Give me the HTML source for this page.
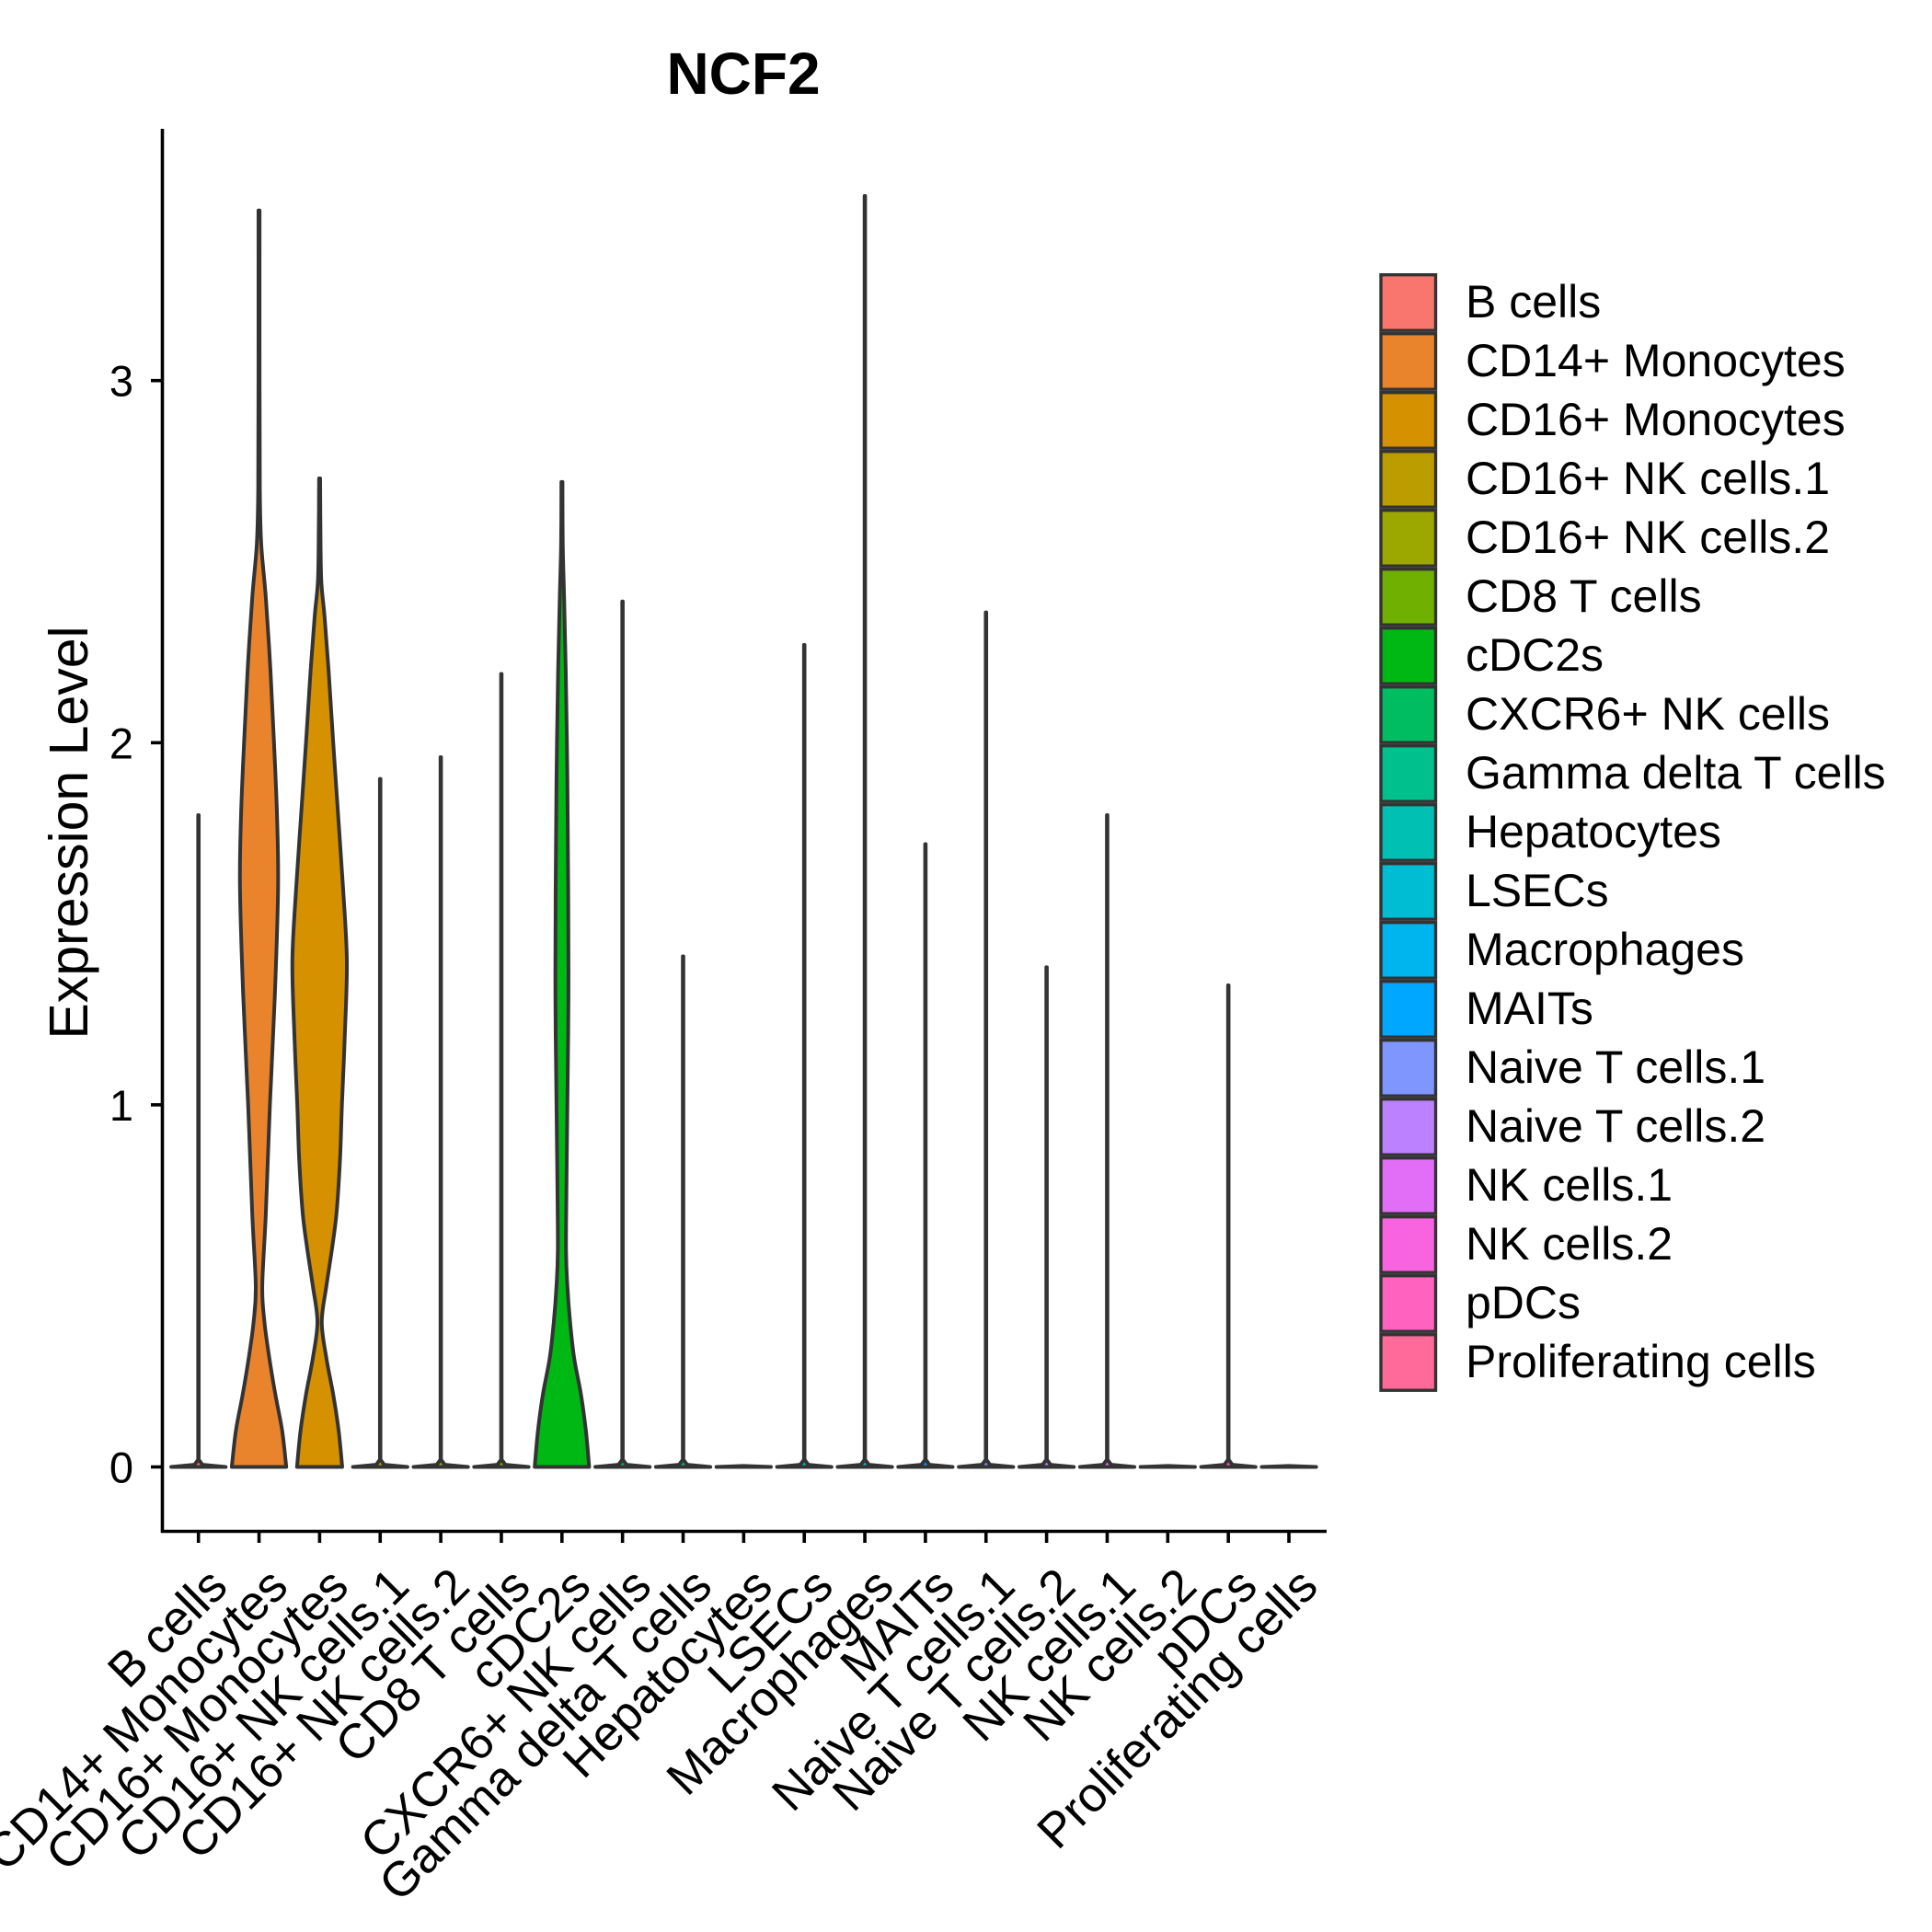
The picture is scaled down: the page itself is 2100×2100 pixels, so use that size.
<!DOCTYPE html>
<html><head><meta charset="utf-8"><style>
html,body{margin:0;padding:0;background:#fff;}
svg{display:block;font-family:"Liberation Sans",Arial,sans-serif;}
</style></head><body>
<svg id="chart" width="2100" height="2100" viewBox="0 0 2100 2100" xmlns="http://www.w3.org/2000/svg">
<rect x="0" y="0" width="2100" height="2100" fill="#fff"/>
<text x="808" y="102" text-anchor="middle" font-size="64" font-weight="bold">NCF2</text>
<text transform="translate(95,905) rotate(-90)" text-anchor="middle" font-size="59">Expression Level</text>
<g id="marks"></g>
<g id="axes"></g>
<g id="legend"></g>
</svg>
<script>
const categories = ["B cells","CD14+ Monocytes","CD16+ Monocytes","CD16+ NK cells.1","CD16+ NK cells.2","CD8 T cells","cDC2s","CXCR6+ NK cells","Gamma delta T cells","Hepatocytes","LSECs","Macrophages","MAITs","Naive T cells.1","Naive T cells.2","NK cells.1","NK cells.2","pDCs","Proliferating cells"];
const colors = ["#F8766D","#E9842C","#D69100","#BC9D00","#9CA700","#6FB000","#00B813","#00BD61","#00C08E","#00C0B4","#00BDD4","#00B5EE","#00A7FF","#7F96FF","#BC81FF","#E26EF7","#F863DF","#FF62BF","#FF6A9A"];
const maxValues = [1.80,3.47,2.73,1.90,1.96,2.19,2.72,2.39,1.41,0,2.27,3.51,1.72,2.36,1.38,1.80,0,1.33,0];
const yTicks = [0,1,2,3];
// density profiles (value, relative half-width)
const cd14Y = [0,0.1,0.2,0.3,0.4,0.5,0.7,1.0,1.3,1.6,1.8,2.0,2.2,2.4,2.55,2.7,3.0,3.47];
const cd14W = [1.0,0.85,0.6,0.38,0.2,0.12,0.25,0.4,0.58,0.7,0.66,0.55,0.42,0.25,0.08,0.03,0.02,0.02];
const cd16Y = [0,0.1,0.2,0.3,0.4,0.5,0.6,0.7,0.85,1.0,1.2,1.4,1.6,1.8,2.0,2.2,2.35,2.45,2.6,2.73];
const cd16W = [0.83,0.7,0.5,0.25,0.08,0.25,0.45,0.62,0.75,0.82,0.93,1.0,0.86,0.68,0.5,0.33,0.18,0.06,0.03,0.02];
const cdc2Y = [0,0.1,0.2,0.3,0.4,0.5,0.6,0.8,1.0,1.3,1.6,1.9,2.2,2.4,2.55,2.72];
const cdc2W = [1.0,0.88,0.7,0.45,0.3,0.2,0.15,0.17,0.2,0.24,0.23,0.2,0.14,0.08,0.03,0.02];
const shaped = {1:[cd14Y,cd14W],2:[cd16Y,cd16W],6:[cdc2Y,cdc2W]};

const NS="http://www.w3.org/2000/svg";
const X0=215.7, STEP=65.85, Y0=1594.5, UNIT=393.6, HALF=29.6;
const xPos = i => X0 + i*STEP;
const yPos = v => Y0 - v*UNIT;
function mk(tag, attrs, parent){const e=document.createElementNS(NS,tag);for(const k in attrs)e.setAttribute(k,attrs[k]);parent.appendChild(e);return e;}
function smoothSeg(pts){
  let d="";
  for(let i=0;i<pts.length-1;i++){
    const p0=pts[Math.max(i-1,0)],p1=pts[i],p2=pts[i+1],p3=pts[Math.min(i+2,pts.length-1)];
    const c1=[p1[0]+(p2[0]-p0[0])/6,p1[1]+(p2[1]-p0[1])/6];
    const c2=[p2[0]-(p3[0]-p1[0])/6,p2[1]-(p3[1]-p1[1])/6];
    d+=" C"+c1[0].toFixed(2)+","+c1[1].toFixed(2)+" "+c2[0].toFixed(2)+","+c2[1].toFixed(2)+" "+p2[0].toFixed(2)+","+p2[1].toFixed(2);
  }
  return d;
}
function lineSeg(pts){return pts.slice(1).map(p=>" L"+p[0].toFixed(2)+","+p[1].toFixed(2)).join("");}
const marks=document.getElementById('marks');
categories.forEach((c,i)=>{
  const cx=xPos(i);
  let vy, vw, smooth=false;
  if(shaped[i]){vy=shaped[i][0].slice();vw=shaped[i][1].slice();vy[vy.length-1]=maxValues[i];smooth=true;}
  else if(maxValues[i]>0){vy=[0,0.006,0.02,maxValues[i]];vw=[1,0.15,0.01,0.01];}
  else {vy=[0,0.003];vw=[1,0.0];}
  const right=vy.map((v,k)=>[cx+vw[k]*HALF,yPos(v)]);
  const left=vy.map((v,k)=>[cx-vw[k]*HALF,yPos(v)]).reverse();
  const seg = smooth?smoothSeg:lineSeg;
  let d="M"+right[0][0].toFixed(2)+","+right[0][1].toFixed(2)+seg(right)+" L"+left[0][0].toFixed(2)+","+left[0][1].toFixed(2)+seg(left)+" Z";
  const p=mk('path',{d:d,fill:colors[i],stroke:'#333333','stroke-width':4,'stroke-linejoin':'round'},marks);
  
  
});
const axes=document.getElementById('axes');
const yl=mk('line',{x1:176.5,y1:140,x2:176.5,y2:1666,stroke:'#000','stroke-width':3.6},axes);


const xl=mk('line',{x1:175,y1:1664.5,x2:1442,y2:1664.5,stroke:'#000','stroke-width':3.6},axes);


yTicks.forEach(t=>{
  const tk=mk('line',{x1:164,y1:yPos(t),x2:176.5,y2:yPos(t),stroke:'#000','stroke-width':3.6},axes);
  
  
  const tx=mk('text',{x:145,y:yPos(t)+17,'text-anchor':'end','font-size':47},axes);
  tx.textContent=String(t);
  
  
});
categories.forEach((c,i)=>{
  const x=xPos(i);
  const tk=mk('line',{x1:x,y1:1664.5,x2:x,y2:1677,stroke:'#000','stroke-width':3.6},axes);
  
  
  const tx=mk('text',{transform:'translate('+(x+34).toFixed(1)+',1727) rotate(-45)','text-anchor':'end','font-size':53},axes);
  tx.textContent=c;
  
  
});
const legend=document.getElementById('legend');
categories.forEach((c,i)=>{
  const top=297+i*64;
  const r=mk('rect',{x:1501,y:top+1.7,width:59.5,height:60.5,fill:colors[i],stroke:'#333333','stroke-width':3.4},legend);
  
  
  const t=mk('text',{x:1593,y:top+48,'font-size':50},legend);
  t.textContent=c;
  
  
});
</script>
</body></html>
